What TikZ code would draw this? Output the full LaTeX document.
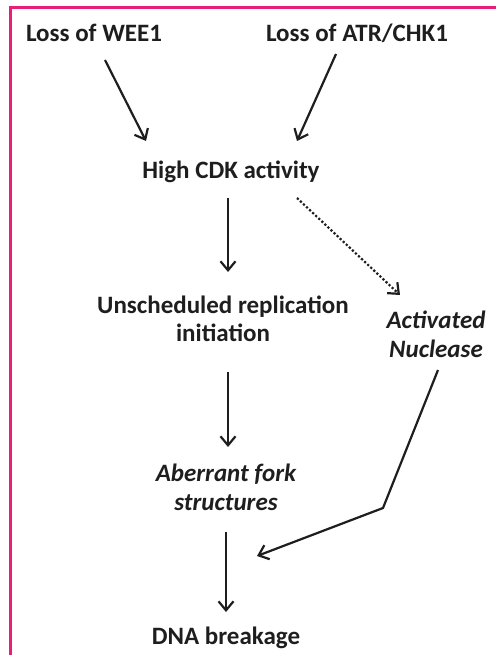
\documentclass[tikz,border=0pt]{standalone}
\usepackage{fontspec}
\setmainfont{Carlito}
\usetikzlibrary{arrows.meta}
\definecolor{frame}{RGB}{232,30,120}
\definecolor{ink}{RGB}{30,30,30}
\begin{document}
\begin{tikzpicture}[x=1pt,y=-1pt,
  lbl/.style={font=\fontsize{25}{28}\selectfont\bfseries, text=ink, align=center, inner sep=0pt},
  ilbl/.style={lbl, font=\fontsize{25}{29}\selectfont\bfseries\itshape},
  arr/.style={draw=ink, line width=2.2pt, -{Straight Barb[length=9pt,width=15pt,line width=2.2pt]}},
  dotarr/.style={arr, dotted}]
\useasboundingbox (0,0) rectangle (495,655);
\draw[frame, line width=2.5pt] (10.5,656) -- (10.5,7.5) -- (496,7.5);
\node[lbl] (wee) at (94,33) {Loss of WEE1};
\node[lbl] (atr) at (357,33) {Loss of ATR/CHK1};
\node[lbl] (cdk) at (231,172) {High CDK activity};
\node[lbl] (urep) at (223,319) {Unscheduled replication\\initiation};
\node[ilbl] (nuc) at (436,334) {Activated\\Nuclease};
\node[ilbl] (abf) at (226,487) {Aberrant fork\\structures};
\node[lbl] (dna) at (226,638) {DNA breakage};
\coordinate (w1) at (105,60); \coordinate (w2) at (146,141);
\coordinate (a1) at (336,54); \coordinate (a2) at (297,141);
\coordinate (c1) at (228,198); \coordinate (c2) at (228,272);
\coordinate (d1) at (297,198); \coordinate (d2) at (400,295);
\coordinate (u1) at (228,372); \coordinate (u2) at (228,447);
\coordinate (f1) at (226,532); \coordinate (f2) at (226,612);
\coordinate (n1) at (438,370); \coordinate (nb) at (383,508); \coordinate (n2) at (257,556);
\draw[arr] (w1) -- (w2);
\draw[arr] (a1) -- (a2);
\draw[arr] (c1) -- (c2);
\draw[dotarr] (d1) -- (d2);
\draw[arr] (u1) -- (u2);
\draw[arr] (f1) -- (f2);
\draw[arr] (n1) -- (nb) -- (n2);
\end{tikzpicture}
\end{document}
